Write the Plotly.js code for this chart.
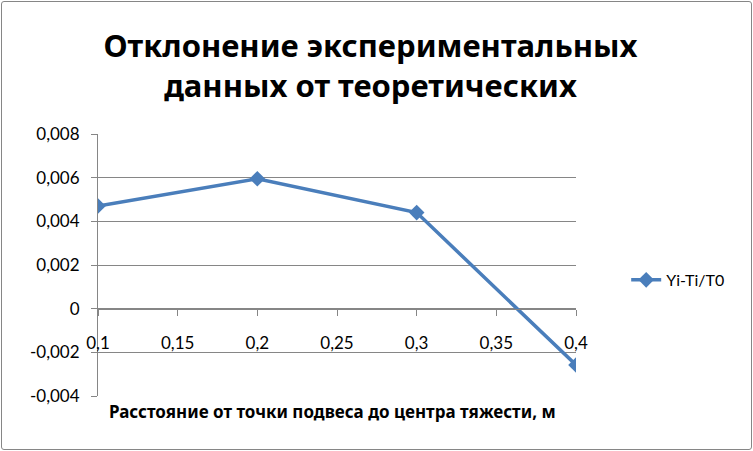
<!DOCTYPE html>
<html>
<head>
<meta charset="utf-8">
<script src="https://cdn.plot.ly/plotly-3.0.1.min.js"></script>
<style>
html,body{margin:0;padding:0;background:#fff;}
#wrap{position:relative;width:753px;height:451px;}
#chart{width:753px;height:451px;}
#frame{position:absolute;left:1px;top:1px;width:749px;height:447px;border:1px solid #868686;border-radius:3px;pointer-events:none;}
</style>
</head>
<body>
<div id="wrap"><div id="chart"></div><div id="frame"></div></div>
<script>
const xValues = [0.1, 0.2, 0.3, 0.4];
const yValues = [0.0047, 0.00595, 0.0044, -0.00258];
const seriesName = "Yi-Ti/T0";
const xTickVals = [0.1, 0.15, 0.2, 0.25, 0.3, 0.35, 0.4];
const xTickText = ["0,1", "0,15", "0,2", "0,25", "0,3", "0,35", "0,4"];
const yTickVals = [-0.004, -0.002, 0, 0.002, 0.004, 0.006, 0.008];
const yTickText = ["-0,004", "-0,002", "0", "0,002", "0,004", "0,006", "0,008"];
const titleText = "Отклонение экспериментальных<br>данных от теоретических";
const xTitle = "Расстояние от точки подвеса до центра тяжести, м";

const FONT = "Lato, Noto Sans, sans-serif";
const NOTO = "Noto Sans, DejaVu Sans, sans-serif";
const trace = {
  x: xValues, y: yValues, name: seriesName, type: "scatter", mode: "lines+markers",
  line: {color: "#4a7ebb", width: 3.5},
  marker: {symbol: "diamond", size: 12, color: "#4a7ebb"}
};
const layout = {
  width: 753, height: 451,
  margin: {l: 98, r: 177, t: 134, b: 55, pad: 0},
  paper_bgcolor: "#fff", plot_bgcolor: "#fff",
  font: {family: FONT, color: "#000", size: 16},
  title: {text: titleText, font: {family: NOTO, size: 31, color: "#000", weight: "bold"},
          x: 0.492, xanchor: "center", yref: "container", y: 0.874, yanchor: "middle"},
  showlegend: true,
  legend: {x: 1.105, xanchor: "left", y: 0.443, yanchor: "middle", font: {size: 16, family: FONT}, bgcolor: "rgba(0,0,0,0)"},
  xaxis: {
    range: [0.1, 0.4], tickvals: xTickVals, ticktext: xTickText,
    anchor: "free", position: 1/3,
    showline: true, linecolor: "#868686", linewidth: 1,
    ticks: "outside", ticklen: 6, tickcolor: "#868686",
    ticklabelstandoff: 13,
    showgrid: false, zeroline: false,
    tickfont: {size: 17, family: FONT}
  },
  yaxis: {
    range: [-0.004, 0.008], tickvals: yTickVals, ticktext: yTickText,
    showline: true, linecolor: "#868686", linewidth: 1,
    ticks: "outside", ticklen: 6, tickcolor: "#868686",
    ticklabelstandoff: 8,
    showgrid: true, gridcolor: "#868686", gridwidth: 1,
    zeroline: false, tickfont: {size: 17, family: FONT}
  },
  annotations: [{
    text: xTitle, xref: "paper", yref: "paper", x: 0.49, y: -0.0573,
    xanchor: "center", yanchor: "middle", showarrow: false,
    font: {size: 17, family: NOTO, weight: "bold", color: "#000"}
  }]
};
Plotly.newPlot("chart", [trace], layout, {displayModeBar: false, staticPlot: true});
</script>
</body>
</html>
